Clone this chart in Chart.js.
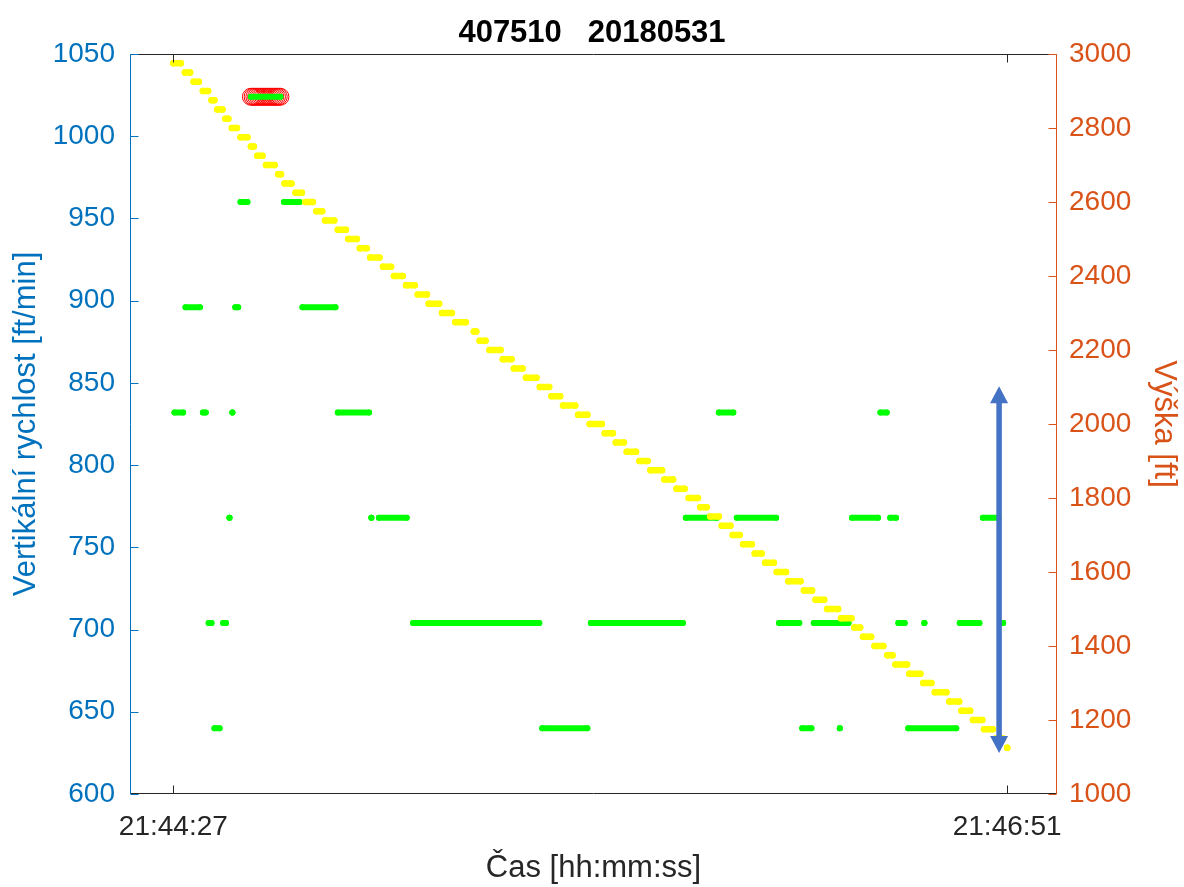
<!DOCTYPE html>
<html>
<head>
<meta charset="utf-8">
<script src="https://cdn.jsdelivr.net/npm/chart.js@4"></script>
<style>
    html, body { margin: 0; padding: 0; background: #ffffff; }
    #wrap { width: 1184px; height: 887px; }
</style>
</head>
<body>
<div id="wrap"><canvas id="chart" width="1184" height="887"></canvas></div>
<script>
// time axis: seconds after 21:44:27
const xTickValues = [0, 144];
const xTickLabels = ['21:44:27', '21:46:51'];

// vertical speed [ft/min], runs of equal samples (start s, end s, value)
const speedStart = [0.2, 2.1, 5.1, 6.1, 7.1, 8.6, 9.7, 10.2, 10.7, 11.6, 13.4, 19.1, 22.3, 28.4, 34.2, 35.5,
    41.4, 63.7, 72.1, 88.5, 94.2, 97.3, 104.6, 108.6, 110.6, 115.1, 117.2, 122.1, 123.8, 125.2, 126.9,
    129.7, 135.8, 139.8, 143.3];
const speedEnd = [1.7, 4.6, 5.6, 6.6, 8.0, 9.1, 9.7, 10.2, 11.2, 12.8, 18.5, 21.8, 28.0, 33.8, 34.2, 40.3,
    63.2, 71.5, 88.0, 93.9, 96.7, 104.1, 108.1, 110.2, 116.6, 115.1, 121.7, 123.2, 124.8, 126.3, 135.2,
    129.7, 139.2, 142.5, 143.3];
const speedValue = [832, 896, 832, 704, 640, 704, 768, 832, 896, 960, 1024, 960, 896, 832, 768, 768,
    704, 640, 704, 768, 832, 768, 704, 640, 704, 640, 768, 832, 768, 704, 640,
    704, 704, 768, 704];

// flagged samples (red circles)
const flaggedTimes = [13.4, 13.7, 14.0, 14.3, 14.6, 14.9, 15.2, 15.5, 15.8, 16.1, 16.4, 16.7, 17.0, 17.3,
    17.6, 17.9, 18.2, 18.5];
const flaggedValue = 1024;

// altitude [ft], runs of equal samples
const altStart = [0.0, 2.0, 3.5, 5.1, 6.6, 7.6, 9.0, 10.1, 11.6, 13.4, 14.5, 16.0, 18.1, 19.2, 21.1,
    22.8, 24.7, 26.2, 28.4, 30.2, 32.2, 34.0, 36.2, 38.1, 40.2, 42.2, 44.1, 46.4, 48.7, 51.9,
    52.9, 54.6, 56.9, 58.8, 60.9, 63.3, 65.3, 67.3, 69.9, 71.9, 74.5, 76.4, 78.3, 80.5, 82.4,
    84.8, 86.9, 89.0, 91.0, 92.7, 94.7, 96.6, 98.4, 100.4, 102.2, 104.2, 106.2, 108.9, 110.9, 112.9,
    115.3, 117.6, 119.1, 121.1, 123.3, 124.7, 127.1, 129.5, 131.5, 134.0, 136.1, 138.1, 140.0, 142.0, 144.0];
const altEnd = [1.3, 2.9, 4.4, 6.0, 7.1, 8.5, 9.5, 11.0, 12.8, 13.9, 15.4, 17.5, 18.6, 20.4, 22.2,
    24.1, 25.7, 27.8, 29.8, 31.7, 33.4, 35.6, 37.6, 39.6, 41.7, 43.8, 45.9, 48.1, 50.5, 52.3,
    53.9, 56.5, 58.4, 60.3, 62.7, 64.9, 66.8, 69.4, 71.5, 74.0, 75.9, 77.8, 79.9, 81.9, 84.4,
    86.3, 88.3, 90.6, 92.1, 94.2, 96.2, 97.8, 99.9, 101.6, 103.7, 105.8, 108.3, 110.3, 112.4, 114.8,
    117.1, 118.6, 120.5, 122.6, 124.2, 126.7, 129.0, 130.9, 133.5, 135.7, 137.6, 139.7, 141.5, 143.3, 144.0];
const altValue = [2975, 2950, 2925, 2900, 2875, 2850, 2825, 2800, 2775, 2750, 2725, 2700, 2675, 2650, 2625,
    2600, 2575, 2550, 2525, 2500, 2475, 2450, 2425, 2400, 2375, 2350, 2325, 2300, 2275, 2250,
    2225, 2200, 2175, 2150, 2125, 2100, 2075, 2050, 2025, 2000, 1975, 1950, 1925, 1900, 1875,
    1850, 1825, 1800, 1775, 1750, 1725, 1700, 1675, 1650, 1625, 1600, 1575, 1550, 1525, 1500,
    1475, 1450, 1425, 1400, 1375, 1350, 1325, 1300, 1275, 1250, 1225, 1200, 1175, 1150, 1125];

// double arrow marking the speed spread near the end
const arrowTime = 142.6;
const arrowBottom = 625;
const arrowTop = 848;

const FONT = "'Liberation Sans', Arial, Helvetica, sans-serif";
const BLUE = '#0072BD';
const ORANGE = '#D95319';
const DARK = '#262626';

function runPoints(starts, ends, values) {
    const pts = [];
    starts.forEach((s, i) => {
        pts.push({ x: s, y: values[i] }, { x: ends[i], y: values[i] }, { x: ends[i], y: null });
    });
    return pts;
}

// MATLAB-like frame: coloured y axes, ticks pointing inwards, box on top
const axisFrame = {
    id: 'axisFrame',
    afterDatasetsDraw(chart) {
        const { ctx, chartArea: a, scales } = chart;
        const L = Math.round(a.left) + 0.5, R = Math.round(a.right) - 0.5;
        const T = Math.round(a.top) + 0.5, B = Math.round(a.bottom) - 0.5;
        const tick = 8;
        ctx.save();
        ctx.lineWidth = 1;
        const seg = (x1, y1, x2, y2, c) => {
            ctx.strokeStyle = c;
            ctx.beginPath();
            ctx.moveTo(x1, y1);
            ctx.lineTo(x2, y2);
            ctx.stroke();
        };
        seg(L, T, R, T, DARK);
        seg(L, B, R, B, DARK);
        scales.x.ticks.forEach(t => {
            const px = Math.round(scales.x.getPixelForValue(t.value)) + 0.5;
            seg(px, B, px, B - tick, DARK);
            seg(px, T, px, T + tick, DARK);
        });
        seg(L, T, L, B + 0.5, BLUE);
        scales.y.ticks.forEach(t => {
            const py = Math.round(scales.y.getPixelForValue(t.value)) + 0.5;
            seg(L, py, L + tick, py, BLUE);
        });
        seg(R, T, R, B + 0.5, ORANGE);
        scales.y2.ticks.forEach(t => {
            const py = Math.round(scales.y2.getPixelForValue(t.value)) + 0.5;
            seg(R, py, R - tick, py, ORANGE);
        });
        ctx.restore();
    },
    afterDraw(chart) {
        const { ctx, scales } = chart;
        const x = scales.x.getPixelForValue(arrowTime);
        const yTop = scales.y.getPixelForValue(arrowTop);
        const yBot = scales.y.getPixelForValue(arrowBottom);
        const headLen = 17, headHalf = 9, shaft = 5.5;
        ctx.save();
        ctx.fillStyle = '#4472C4';
        ctx.fillRect(x - shaft / 2, yTop + headLen - 1, shaft, yBot - yTop - 2 * headLen + 2);
        ctx.beginPath();
        ctx.moveTo(x, yTop);
        ctx.lineTo(x - headHalf, yTop + headLen);
        ctx.lineTo(x + headHalf, yTop + headLen);
        ctx.closePath();
        ctx.fill();
        ctx.beginPath();
        ctx.moveTo(x, yBot);
        ctx.lineTo(x - headHalf, yBot - headLen);
        ctx.lineTo(x + headHalf, yBot - headLen);
        ctx.closePath();
        ctx.fill();
        ctx.restore();
    }
};

new Chart(document.getElementById('chart'), {
    type: 'line',
    data: {
        datasets: [
            {
                label: 'Výška',
                data: runPoints(altStart, altEnd, altValue),
                yAxisID: 'y2',
                borderColor: '#FFFF00',
                borderWidth: 6.5,
                borderCapStyle: 'round',
                pointRadius: 3.25,
                pointBackgroundColor: '#FFFF00',
                pointBorderWidth: 0,
                spanGaps: false,
                order: 1
            },
            {
                label: 'Vertikální rychlost',
                data: runPoints(speedStart, speedEnd, speedValue),
                yAxisID: 'y',
                borderColor: '#00FF00',
                borderWidth: 6,
                borderCapStyle: 'round',
                pointRadius: 3,
                pointBackgroundColor: '#00FF00',
                pointBorderWidth: 0,
                spanGaps: false,
                order: 2
            },
            {
                label: 'flag',
                data: flaggedTimes.map(t => ({ x: t, y: flaggedValue })),
                yAxisID: 'y',
                showLine: false,
                pointRadius: 8.5,
                pointBackgroundColor: 'rgba(0,0,0,0)',
                pointBorderColor: '#FF0000',
                pointBorderWidth: 1,
                order: 3
            }
        ]
    },
    options: {
        responsive: false,
        animation: false,
        events: [],
        layout: { padding: 0 },
        plugins: {
            legend: { display: false },
            tooltip: { enabled: false },
            title: {
                display: true,
                text: '407510   20180531',
                color: '#000000',
                font: { family: FONT, size: 31, weight: 'bold' },
                padding: { top: 15, bottom: 1.8 }
            }
        },
        scales: {
            x: {
                type: 'linear',
                min: -7.48,
                max: 152.6,
                grid: { display: false, drawTicks: false },
                border: { display: false },
                afterBuildTicks: (scale) => {
                    scale.ticks = xTickValues.map(v => ({ value: v }));
                },
                afterFit: (scale) => { scale.height = 93; },
                ticks: {
                    autoSkip: false,
                    maxRotation: 0,
                    padding: 16,
                    color: DARK,
                    font: { family: FONT, size: 28 },
                    callback: (value) => {
                        const i = xTickValues.indexOf(value);
                        return i >= 0 ? xTickLabels[i] : '';
                    }
                },
                title: {
                    display: true,
                    text: 'Čas [hh:mm:ss]',
                    color: DARK,
                    font: { family: FONT, size: 31 },
                    padding: 0
                }
            },
            y: {
                position: 'left',
                min: 600,
                max: 1050,
                grid: { display: false, drawTicks: false },
                border: { display: false },
                afterFit: (scale) => { scale.width = 130; },
                ticks: {
                    stepSize: 50,
                    padding: 15,
                    color: BLUE,
                    font: { family: FONT, size: 28 },
                    callback: (value) => String(value)
                },
                title: {
                    display: true,
                    text: 'Vertikální rychlost [ft/min]',
                    color: BLUE,
                    font: { family: FONT, size: 31 },
                    padding: { top: 8, bottom: 0 }
                }
            },
            y2: {
                position: 'right',
                min: 1000,
                max: 3000,
                grid: { display: false, drawTicks: false },
                border: { display: false },
                afterFit: (scale) => { scale.width = 127; },
                ticks: {
                    stepSize: 200,
                    padding: 12,
                    color: ORANGE,
                    font: { family: FONT, size: 28 },
                    callback: (value) => String(value)
                },
                title: {
                    display: true,
                    text: 'Výška [ft]',
                    color: ORANGE,
                    font: { family: FONT, size: 31 },
                    padding: { top: 2, bottom: 0 }
                }
            }
        }
    },
    plugins: [axisFrame]
});
</script>
</body>
</html>
